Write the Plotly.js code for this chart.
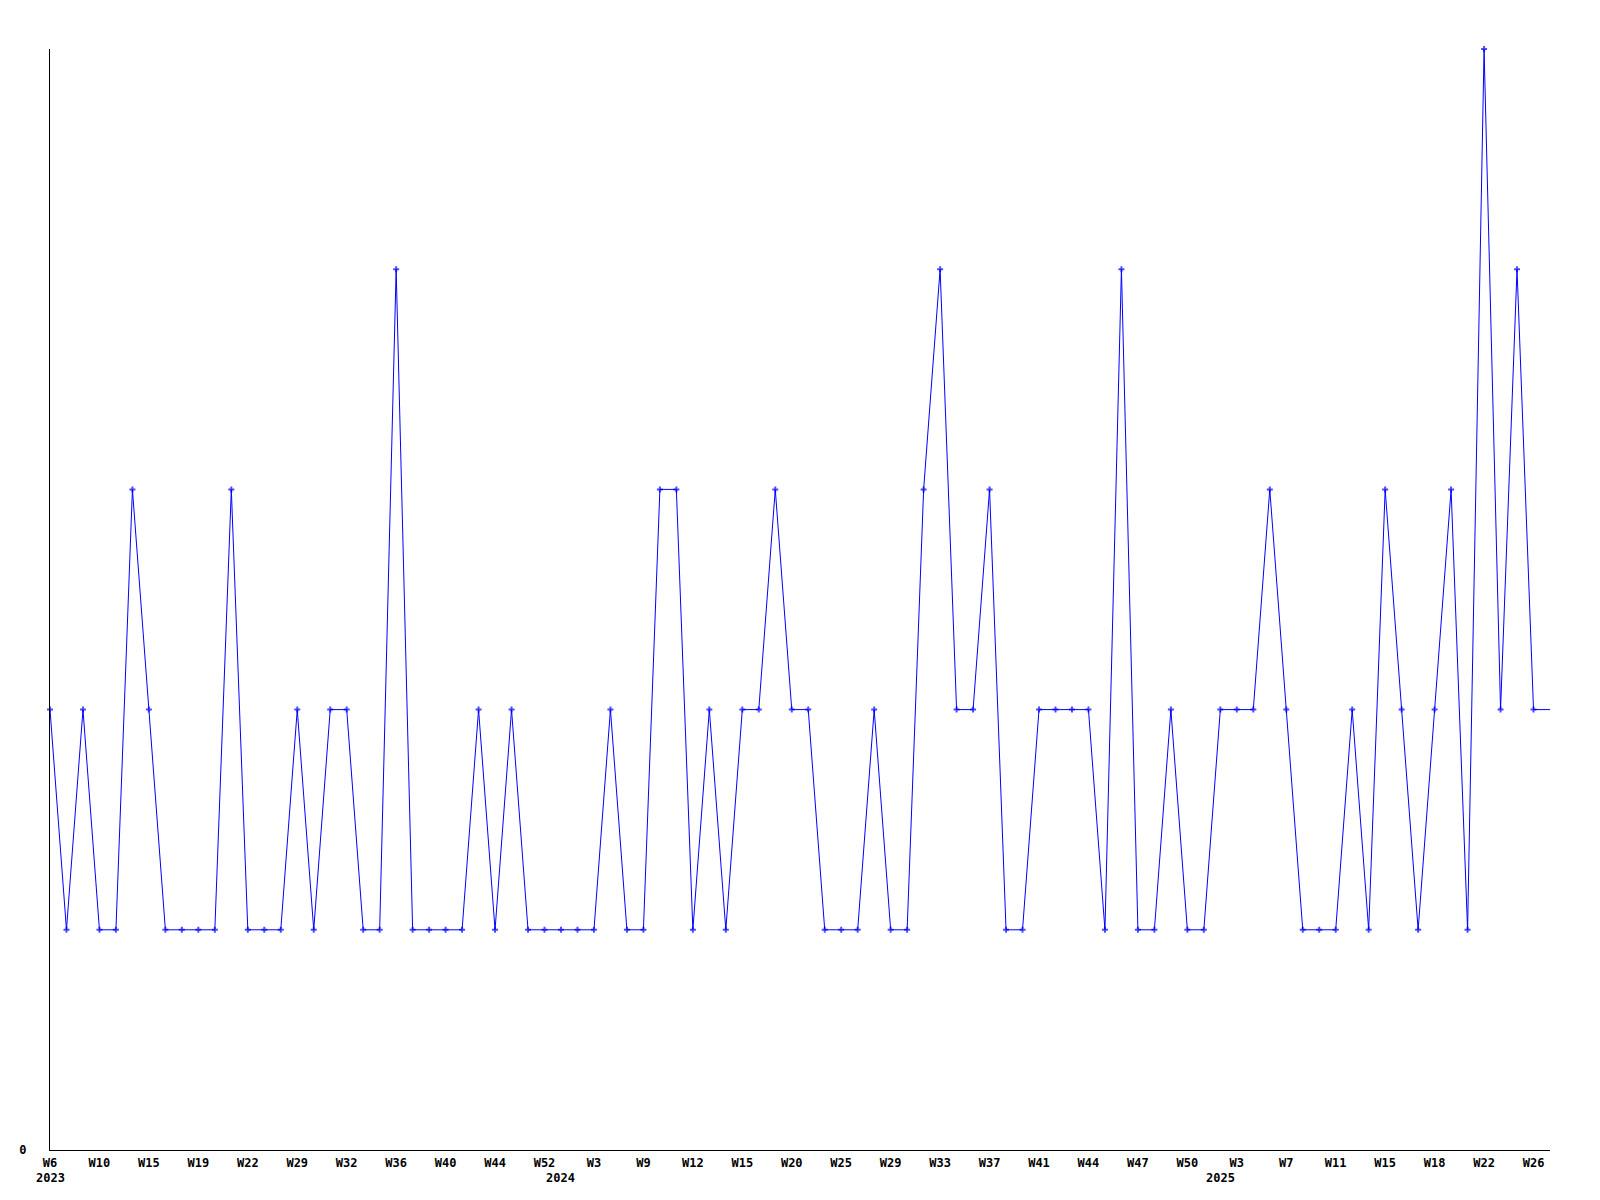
<!DOCTYPE html>
<html>
<head>
<meta charset="utf-8">
<script src="https://cdn.plot.ly/plotly-3.0.1.min.js"></script>
<style>html,body{margin:0;padding:0;background:#fff;}#chart{width:1600px;height:1200px;}</style>
</head>
<body>
<div id="chart"></div>
<script>
// Week of each data point (weeks without data are absent from the series)
const weeks = [
  "W6","W7","W8","W10","W11","W13","W15","W16","W17","W19","W20","W21","W22","W24","W27","W29",
  "W30","W31","W32","W33","W35","W36","W37","W38","W40","W41","W42","W44","W46","W49","W52",
  "W1","W2","W3","W5","W7","W9","W10","W11","W12","W13","W14","W15","W17","W18","W20","W21",
  "W23","W25","W26","W27","W29","W30","W32","W33","W34","W35","W37","W38","W40","W41","W42",
  "W43","W44","W45","W46","W47","W48","W49","W50","W51",
  "W1","W3","W4","W5","W7","W8","W9","W11","W12","W13","W15","W16","W17","W18","W20","W21",
  "W22","W24","W25","W26","W27"
];
const years = [
  2023,2023,2023,2023,2023,2023,2023,2023,2023,2023,2023,2023,2023,2023,2023,2023,
  2023,2023,2023,2023,2023,2023,2023,2023,2023,2023,2023,2023,2023,2023,2023,
  2024,2024,2024,2024,2024,2024,2024,2024,2024,2024,2024,2024,2024,2024,2024,2024,
  2024,2024,2024,2024,2024,2024,2024,2024,2024,2024,2024,2024,2024,2024,2024,
  2024,2024,2024,2024,2024,2024,2024,2024,2024,
  2025,2025,2025,2025,2025,2025,2025,2025,2025,2025,2025,2025,2025,2025,2025,2025,
  2025,2025,2025,2025,2025
];
const values = [
  2,1,2,1,1,3,2,1,1,1,1,3,1,1,1,2,
  1,2,2,1,1,4,1,1,1,1,2,1,2,1,1,
  1,1,1,2,1,1,3,3,1,2,1,2,2,3,2,2,
  1,1,1,2,1,1,3,4,2,2,3,1,1,2,2,
  2,2,1,4,1,1,2,1,1,
  2,2,2,3,2,1,1,1,2,1,3,2,1,2,3,1,
  5,2,4,2,2
];
const yTickVals = [0];
const yTickText = ["0"];
const labelEvery = 3;

const idx = values.map((v, i) => i);
const tickVals = idx.filter(i => i % labelEvery === 0);
const tickText = tickVals.map(i => weeks[i]);
const markerSizes = values.map((v, i) => (i === values.length - 1 ? 0 : 5));

const font = {family: "DejaVu Sans Mono", size: 12, color: "#000"};

const annotations = [];
years.forEach((y, i) => {
  if (i === 0 || years[i - 1] !== y) {
    annotations.push({
      x: i, xref: "x", y: 0, yref: "paper",
      yanchor: "top", xanchor: "center",
      yshift: -19, text: "<b>" + y + "</b>", showarrow: false, font: font
    });
  }
});

const trace = {
  x: idx, y: values, type: "scatter", mode: "lines+markers",
  line: {color: "#0000ff", width: 1},
  marker: {symbol: "cross", size: markerSizes, color: "#0000ff", line: {width: 0}},
  cliponaxis: false, hoverinfo: "none"
};

const layout = {
  width: 1600, height: 1200,
  margin: {l: 50, r: 50, t: 49, b: 50},
  paper_bgcolor: "#fff", plot_bgcolor: "#fff",
  showlegend: false,
  font: font,
  xaxis: {
    range: [0, values.length - 1], showgrid: false, zeroline: false,
    showline: true, linecolor: "#000", linewidth: 1,
    tickmode: "array", tickvals: tickVals, ticktext: tickText.map(t => "<b>" + t + "</b>"),
    ticks: "", ticklabelstandoff: 2, tickfont: font
  },
  yaxis: {
    range: [0, 5], showgrid: false, zeroline: false,
    showline: true, linecolor: "#000", linewidth: 1,
    tickmode: "array", tickvals: yTickVals, ticktext: yTickText.map(t => "<b>" + t + "</b>"),
    ticks: "", ticklabelstandoff: 20, tickfont: font
  },
  annotations: annotations
};

Plotly.newPlot("chart", [trace], layout, {staticPlot: true, displayModeBar: false});
</script>
</body>
</html>
